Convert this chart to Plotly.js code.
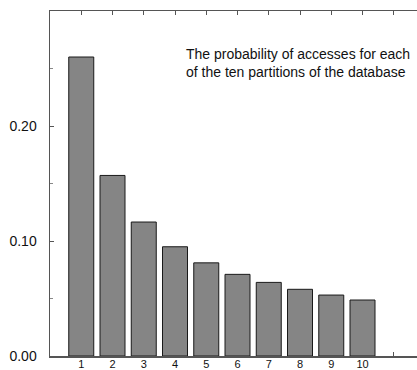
<!DOCTYPE html>
<html>
<head>
<meta charset="utf-8">
<script src="https://cdn.plot.ly/plotly-3.0.1.min.js"></script>
<style>
html, body { margin: 0; padding: 0; overflow: hidden; background: #fff; width: 417px; height: 370px; }
#chart { width: 430px; height: 370px; }
</style>
</head>
<body>
<div id="chart"></div>
<script>
const partitions = [1, 2, 3, 4, 5, 6, 7, 8, 9, 10];
const probabilities = [0.260, 0.157, 0.1165, 0.095, 0.081, 0.071, 0.064, 0.058, 0.053, 0.0487];
const xTickVals = [1, 2, 3, 4, 5, 6, 7, 8, 9, 10, 11];
const xTickText = ['1', '2', '3', '4', '5', '6', '7', '8', '9', '10', ''];
const yTickVals = [0, 0.1, 0.2];
const yTickText = ['0.00', '0.10', '0.20'];
const noteText = 'The probability of accesses for each<br>of the ten partitions of the database';

const axisColor = '#555';
const fontFamily = 'Liberation Sans, Arial, sans-serif';

const trace = {
  type: 'bar',
  x: partitions,
  y: probabilities,
  width: 0.8,
  marker: { color: '#858585', line: { color: '#1a1a1a', width: 1 } },
  hoverinfo: 'skip'
};

const layout = {
  width: 430,
  height: 370,
  margin: { l: 50, r: 5, t: 11, b: 14 },
  paper_bgcolor: '#fff',
  plot_bgcolor: '#fff',
  showlegend: false,
  font: { family: fontFamily, color: '#111' },
  xaxis: {
    range: [0, 12],
    tickvals: xTickVals,
    ticktext: xTickText,
    ticks: 'inside',
    ticklen: 4,
    tickwidth: 1,
    tickcolor: axisColor,
    ticklabelstandoff: -3,
    showline: true,
    linecolor: axisColor,
    linewidth: 1.5,
    mirror: 'ticks',
    showgrid: false,
    zeroline: false,
    layer: 'below traces',
    tickfont: { size: 11, family: fontFamily, color: '#111' }
  },
  yaxis: {
    range: [0, 0.3],
    tickvals: yTickVals,
    ticktext: yTickText,
    ticks: 'inside',
    ticklen: 4,
    tickwidth: 1,
    tickcolor: axisColor,
    ticklabelstandoff: 9,
    minor: { tickvals: [0.05, 0.15, 0.25], ticks: 'inside', ticklen: 3, tickcolor: '#888', showgrid: false },
    showline: true,
    linecolor: axisColor,
    linewidth: 1.5,
    mirror: 'ticks',
    showgrid: false,
    zeroline: false,
    layer: 'below traces',
    tickfont: { size: 14, family: fontFamily, color: '#111' }
  },
  annotations: [{
    xref: 'x', yref: 'y',
    x: 4.3, y: 0.271,
    xanchor: 'left', yanchor: 'top',
    align: 'left',
    showarrow: false,
    text: noteText,
    font: { size: 14, family: fontFamily, color: '#111' }
  }]
};

Plotly.newPlot('chart', [trace], layout, { staticPlot: true, displayModeBar: false });
</script>
</body>
</html>
